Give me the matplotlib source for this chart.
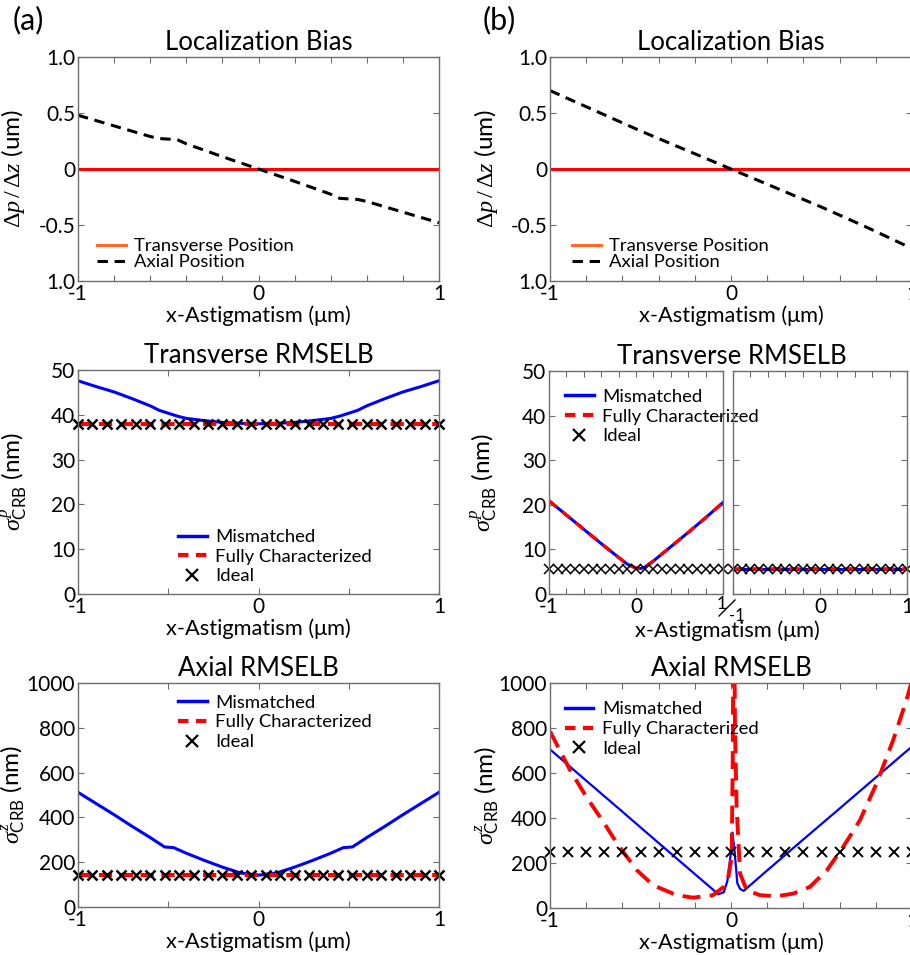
import numpy as np
import matplotlib
matplotlib.use("Agg")
import matplotlib.pyplot as plt
from matplotlib.lines import Line2D

plt.rcParams['font.family'] = ['Lato', 'DejaVu Sans']
plt.rcParams['mathtext.fontset'] = 'custom'
plt.rcParams['mathtext.rm'] = 'Liberation Serif'
plt.rcParams['mathtext.it'] = 'Liberation Serif:italic'
plt.rcParams['mathtext.sf'] = 'Lato'

# ---------------- data ----------------
# (a) localization bias, axial position (um)
bias_a_x = [-1.0, -0.8, -0.6, -0.55, -0.45, -0.4, -0.2, 0.0, 0.2, 0.4, 0.45, 0.55, 0.6, 0.8, 1.0]
bias_a_axial = [0.48, 0.385, 0.29, 0.272, 0.262, 0.225, 0.11, 0.0, -0.11, -0.225, -0.262, -0.272, -0.29, -0.385, -0.48]
# (b) localization bias, axial position (um)
bias_b_x = [-1.0, -0.75, -0.5, -0.25, 0.0, 0.25, 0.5, 0.75, 1.0]
bias_b_axial = [0.70, 0.52, 0.34, 0.17, 0.0, -0.17, -0.34, -0.52, -0.71]
bias_transverse = 0.0

# (a) transverse RMSELB (nm)
tr_a_x = [-1.0, -0.9, -0.8, -0.7, -0.6, -0.55, -0.45, -0.4, -0.3, -0.2, -0.1, 0.0,
          0.1, 0.2, 0.3, 0.4, 0.45, 0.55, 0.6, 0.7, 0.8, 0.9, 1.0]
tr_a_mis = [47.6, 46.3, 45.1, 43.6, 42.0, 41.0, 39.7, 39.2, 38.7, 38.3, 38.1, 38.0,
            38.1, 38.3, 38.7, 39.2, 39.7, 41.0, 42.0, 43.6, 45.1, 46.3, 47.6]
tr_a_full = 38.0
tr_a_ideal = 38.0

# (b) transverse RMSELB (nm), mismatched range and matched range
tr_b_x = [-1.0, -0.8, -0.6, -0.4, -0.2, -0.1, 0.0, 0.05, 0.1, 0.2, 0.4, 0.6, 0.8, 1.0]
tr_b_mis = [20.9, 17.7, 14.5, 11.3, 8.2, 6.7, 5.8, 5.7, 6.0, 7.4, 10.6, 13.8, 17.1, 20.5]
tr_b_full = tr_b_mis
tr_b_flat = 5.5
tr_b_ideal = 5.5

# (a) axial RMSELB (nm)
ax_a_x = [-1.0, -0.9, -0.8, -0.7, -0.6, -0.52, -0.47, -0.4, -0.3, -0.2, -0.1, 0.0,
          0.1, 0.2, 0.3, 0.4, 0.47, 0.52, 0.6, 0.7, 0.8, 0.9, 1.0]
ax_a_mis = [512, 462, 412, 360, 310, 268, 265, 240, 208, 178, 152, 142,
            152, 178, 208, 240, 265, 268, 310, 360, 412, 462, 512]
ax_a_full = 141
ax_a_ideal = 141

# (b) axial RMSELB (nm)
ax_b_mis_x = [-1.0, -0.8, -0.6, -0.4, -0.2, -0.1, -0.07, -0.04, -0.02, 0.0, 0.008,
              0.02, 0.035, 0.05, 0.07, 0.2, 0.4, 0.6, 0.8, 1.0]
ax_b_mis = [705, 566, 428, 289, 151, 82, 61, 70, 120, 250, 335,
            250, 110, 85, 76, 167, 305, 442, 580, 718]
ax_b_full_x = [-1.0, -0.89, -0.8, -0.7, -0.63, -0.52, -0.43, -0.3, -0.21, -0.1, -0.04,
               -0.015, 0.004, 0.01, 0.015, 0.022, 0.031, 0.05, 0.087, 0.16, 0.25, 0.344,
               0.436, 0.53, 0.62, 0.713, 0.805, 0.897, 0.97, 1.0]
ax_b_full = [785, 614, 495, 376, 287, 168, 101, 57, 46, 57, 94,
             138, 227, 700, 1600, 800, 450, 153, 79, 57, 52, 64,
             94, 168, 272, 391, 555, 748, 926, 1010]
ax_b_ideal = 250

ideal_x_a = np.linspace(-1, 1, 26)
ideal_x_b = np.linspace(-1, 1, 21)

# ---------------- style ----------------
BLUE = '#0000ff'
RED = '#ff0000'
ORANGE = '#ff6a2a'
FRAME = '#6e6e6e'
TICK_FS = 15
TITLE_FS = 18.5
LABEL_FS = 15.7
YLABEL_FS = 17.5
LEG_FS = 13.3

fig = plt.figure(figsize=(9.1, 9.55), dpi=100)
W, H = 910.0, 955.0


def add_ax(x0, x1, ytop, ybot):
    return fig.add_axes([x0 / W, 1 - ybot / H, (x1 - x0) / W, (ybot - ytop) / H])


def style(ax, xstep, ylim, yticks, ylabels=None, xlabels=('-1', '0', '1')):
    ax.set_xlim(-1, 1)
    ax.set_ylim(*ylim)
    xt = np.round(np.arange(-1, 1.0001, xstep), 6)
    ax.set_xticks(xt)
    lab = []
    for v in xt:
        if v == -1:
            lab.append(xlabels[0])
        elif v == 0:
            lab.append(xlabels[1])
        elif v == 1:
            lab.append(xlabels[2])
        else:
            lab.append('')
    ax.set_xticklabels(lab)
    ax.set_yticks(yticks)
    if ylabels is not None:
        ax.set_yticklabels(ylabels)
    ax.tick_params(direction='in', top=True, right=True, length=4, width=0.8,
                   color=FRAME, labelsize=TICK_FS, pad=2)
    for s in ax.spines.values():
        s.set_color(FRAME)
        s.set_linewidth(1.0)


def legend(ax, handles, x, y, spacing=0.2):
    leg = ax.legend(handles=handles, loc='upper left', bbox_to_anchor=(x, y), frameon=False,
                    fontsize=LEG_FS, handlelength=1.55, handletextpad=0.45, labelspacing=spacing,
                    borderaxespad=0, borderpad=0)
    leg.set_zorder(10)
    return leg


def rmse_handles(full_dash):
    return [Line2D([], [], color=BLUE, lw=2.5, label='Mismatched'),
            Line2D([], [], color=RED, lw=3, dashes=full_dash, label='Fully Characterized'),
            Line2D([], [], color='black', marker='x', ls='none', ms=8, mew=1.6, label='Ideal')]


bias_ylabel = r'$\Delta p\,/\,\Delta z$ (um)'
trans_ylabel = r'$\sigma^{p}_{\mathsf{CRB}}$ (nm)'
axial_ylabel = r'$\sigma^{z}_{\mathsf{CRB}}$ (nm)'
xlab = 'x-Astigmatism (μm)'

# ---------------- row 1: localization bias ----------------
for (x0, x1, bx, by, lx, lblx) in [(78, 439, bias_a_x, bias_a_axial, 0.053, -0.14),
                                   (550, 912, bias_b_x, bias_b_axial, 0.061, -0.138)]:
    ax = add_ax(x0, x1, 57, 281)
    ax.plot([-1, 1], [bias_transverse, bias_transverse], color=ORANGE, lw=2.2)
    ax.plot([-1, 1], [bias_transverse, bias_transverse], color=RED, lw=2.2)
    ax.plot(bx, by, color='black', lw=2.2, dashes=(3.4, 2.2))
    style(ax, 0.2, (-1, 1), [-1, -0.5, 0, 0.5, 1], ['1.0', '-0.5', '0', '0.5', '1.0'])
    ax.set_title('Localization Bias', fontsize=TITLE_FS, pad=5)
    ax.set_xlabel(xlab, fontsize=LABEL_FS, labelpad=1)
    ax.set_ylabel(bias_ylabel, fontsize=YLABEL_FS)
    ax.yaxis.set_label_coords(lblx, 0.5)
    legend(ax, [Line2D([], [], color=ORANGE, lw=2.2, label='Transverse Position'),
                Line2D([], [], color='black', lw=2.2, dashes=(3.4, 2.2), label='Axial Position')],
           lx, 0.192, spacing=0.0)

# ---------------- row 2 (a): transverse RMSELB ----------------
ax = add_ax(78, 439, 370, 594)
ax.plot(tr_a_x, tr_a_mis, color=BLUE, lw=2.2)
ax.plot([-1, 1], [tr_a_full, tr_a_full], color=RED, lw=3, dashes=(3.2, 1.8))
ax.plot(ideal_x_a, np.full_like(ideal_x_a, tr_a_ideal), ls='none', marker='x',
        color='black', ms=7.5, mew=1.8, clip_on=False)
style(ax, 0.5, (0, 50), [0, 10, 20, 30, 40, 50])
ax.set_title('Transverse RMSELB', fontsize=TITLE_FS, pad=5)
ax.set_xlabel(xlab, fontsize=LABEL_FS, labelpad=1)
ax.set_ylabel(trans_ylabel, fontsize=YLABEL_FS)
ax.yaxis.set_label_coords(-0.135, 0.5)
legend(ax, rmse_handles((2.5, 1.8)), 0.277, 0.29)

# ---------------- row 2 (b): transverse RMSELB, broken axis ----------------
axl = add_ax(549, 723, 371, 594)
axl.plot(tr_b_x, tr_b_mis, color=BLUE, lw=2.2)
axl.plot(tr_b_x, tr_b_full, color=RED, lw=2.4, dashes=(3.0, 2.2))
axl.plot(ideal_x_b, np.full_like(ideal_x_b, tr_b_ideal), ls='none', marker='x',
         color='black', ms=6.5, mew=1.1, clip_on=False)
style(axl, 0.2, (0, 50), [0, 10, 20, 30, 40, 50], xlabels=('-1', '0', ''))
axl.set_ylabel(trans_ylabel, fontsize=YLABEL_FS)
axl.yaxis.set_label_coords(-0.29, 0.5)
axl.set_title('Transverse RMSELB', fontsize=TITLE_FS, pad=5, x=1.05)

axr = add_ax(733, 907, 371, 594)
axr.patch.set_visible(False)
axr.plot([-1, 1], [tr_b_flat, tr_b_flat], color=BLUE, lw=2.2)
axr.plot([-1, 1], [tr_b_flat, tr_b_flat], color=RED, lw=2.6, dashes=(3.0, 2.2))
axr.plot(ideal_x_b, np.full_like(ideal_x_b, tr_b_ideal), ls='none', marker='x',
         color='black', ms=6.5, mew=1.1, clip_on=False)
style(axr, 0.2, (0, 50), [0, 10, 20, 30, 40, 50], xlabels=('', '0', '1'))
axr.set_yticklabels([])
axr.set_xlabel(xlab, fontsize=LABEL_FS, labelpad=1)
axr.xaxis.set_label_coords(-0.03, -0.118)
# break mark between the two x ranges: "1" / "-1"
fig.add_artist(Line2D([719 / W, 735 / W], [1 - 616 / H, 1 - 600 / H], color='black', lw=1.0))
fig.text(722 / W, 1 - 604 / H, '1', fontsize=12.5, ha='center', va='center', zorder=20)
fig.text(737 / W, 1 - 616 / H, '-1', fontsize=12, ha='center', va='center', zorder=20)
legend(axl, rmse_handles((2.5, 1.8)), 0.092, 0.92)

# ---------------- row 3 (a): axial RMSELB ----------------
ax = add_ax(78, 439, 683, 907)
ax.plot(ax_a_x, ax_a_mis, color=BLUE, lw=2.2)
ax.plot([-1, 1], [ax_a_full, ax_a_full], color=RED, lw=3, dashes=(3.2, 1.8))
ax.plot(ideal_x_a, np.full_like(ideal_x_a, ax_a_ideal, dtype=float), ls='none', marker='x',
        color='black', ms=7.5, mew=1.8, clip_on=False)
style(ax, 0.5, (0, 1000), [0, 200, 400, 600, 800, 1000])
ax.set_title('Axial RMSELB', fontsize=TITLE_FS, pad=5)
ax.set_xlabel(xlab, fontsize=LABEL_FS, labelpad=1)
ax.set_ylabel(axial_ylabel, fontsize=YLABEL_FS)
ax.yaxis.set_label_coords(-0.14, 0.5)
legend(ax, rmse_handles((2.5, 1.8)), 0.277, 0.948)

# ---------------- row 3 (b): axial RMSELB ----------------
ax = add_ax(550, 912, 683, 908)
ax.plot(ax_b_mis_x, ax_b_mis, color=BLUE, lw=1.6)
ax.plot(ax_b_full_x, ax_b_full, color=RED, lw=2.8, dashes=(4.6, 2.4))
ax.plot(ideal_x_b, np.full_like(ideal_x_b, ax_b_ideal, dtype=float), ls='none', marker='x',
        color='black', ms=7.5, mew=1.4, clip_on=False)
style(ax, 0.2, (0, 1000), [0, 200, 400, 600, 800, 1000])
ax.set_title('Axial RMSELB', fontsize=TITLE_FS, pad=5)
ax.set_xlabel(xlab, fontsize=LABEL_FS, labelpad=1)
ax.set_ylabel(axial_ylabel, fontsize=YLABEL_FS)
ax.yaxis.set_label_coords(-0.135, 0.5)
legend(ax, rmse_handles((2.5, 1.8)), 0.041, 0.918)

# panel tags
fig.text(28 / W, 1 - 20 / H, '(a)', fontsize=22, ha='center', va='center')
fig.text(499 / W, 1 - 20 / H, '(b)', fontsize=22, ha='center', va='center')

fig.savefig('out.png', dpi=100)
